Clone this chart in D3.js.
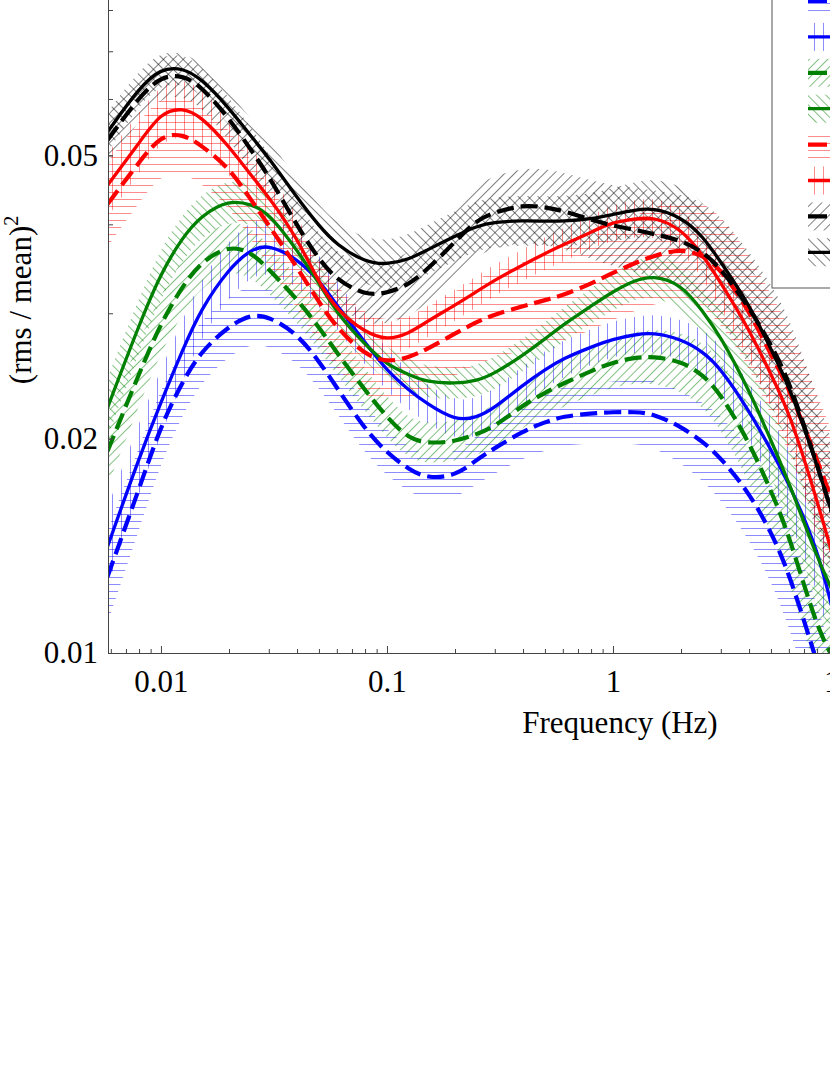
<!DOCTYPE html>
<html>
<head>
<meta charset="utf-8">
<script src="https://cdn.jsdelivr.net/npm/d3@7"></script>
<style>
	body { margin: 0; background: #ffffff; }
	svg { display: block; }
</style>
</head>
<body>
<div id="chart"></div>
<script>
// frequency grid (Hz), shared by every curve
var freq = [0.0058, 0.008, 0.01, 0.0125, 0.015, 0.02, 0.025, 0.03, 0.04, 0.05, 0.06, 0.08,
			0.1, 0.125, 0.15, 0.2, 0.25, 0.3, 0.4, 0.5, 0.6, 0.8,
			1, 1.25, 1.5, 2, 2.5, 3, 4, 5, 6, 8, 9.5];

// power, (rms/mean)^2
var blueDashed  = [0.0128, 0.0170, 0.0209, 0.0241, 0.0265, 0.0288, 0.0299, 0.0297, 0.0281, 0.0257, 0.0236, 0.0206,
				   0.0191, 0.0181, 0.0176, 0.0177, 0.0187, 0.0194, 0.0205, 0.0211, 0.0215, 0.0217,
				   0.0218, 0.0218, 0.0217, 0.0208, 0.0198, 0.0188, 0.0168, 0.0148, 0.0130, 0.0097, 0.0081];
var blueSolid   = [0.0141, 0.0188, 0.0225, 0.0267, 0.0304, 0.0347, 0.0369, 0.0375, 0.0358, 0.0334, 0.0308, 0.0273,
				   0.0249, 0.0234, 0.0224, 0.0212, 0.0214, 0.0221, 0.0238, 0.0250, 0.0259, 0.0269,
				   0.0276, 0.0280, 0.0282, 0.0276, 0.0265, 0.0251, 0.0219, 0.0193, 0.0173, 0.0141, 0.0113];
var greenDashed = [0.0192, 0.0247, 0.0291, 0.0328, 0.0354, 0.0374, 0.0366, 0.0346, 0.0314, 0.0287, 0.0264, 0.0234,
				   0.0214, 0.0200, 0.0197, 0.0198, 0.0203, 0.0208, 0.0223, 0.0232, 0.0239, 0.0249,
				   0.0256, 0.0260, 0.0261, 0.0257, 0.0246, 0.0231, 0.0198, 0.0169, 0.0147, 0.0108, 0.0098];
var greenSolid  = [0.0221, 0.0289, 0.0342, 0.0384, 0.0411, 0.0433, 0.0427, 0.0415, 0.0368, 0.0331, 0.0300, 0.0271,
				   0.0254, 0.0246, 0.0240, 0.0239, 0.0241, 0.0247, 0.0262, 0.0276, 0.0289, 0.0307,
				   0.0322, 0.0334, 0.0339, 0.0330, 0.0302, 0.0278, 0.0234, 0.0199, 0.0174, 0.0136, 0.0121];
var redDashed   = [0.0427, 0.0489, 0.0534, 0.0536, 0.0517, 0.0481, 0.0433, 0.0399, 0.0348, 0.0311, 0.0286, 0.0262,
				   0.0256, 0.0260, 0.0267, 0.0281, 0.0292, 0.0299, 0.0307, 0.0313, 0.0318, 0.0330,
				   0.0342, 0.0353, 0.0361, 0.0370, 0.0362, 0.0346, 0.0303, 0.0262, 0.0236, 0.0187, 0.0161];
var redSolid    = [0.0454, 0.0520, 0.0575, 0.0583, 0.0568, 0.0515, 0.0469, 0.0437, 0.0383, 0.0331, 0.0303, 0.0282,
				   0.0275, 0.0281, 0.0292, 0.0308, 0.0322, 0.0334, 0.0351, 0.0364, 0.0374, 0.0390,
				   0.0403, 0.0407, 0.0410, 0.0395, 0.0362, 0.0331, 0.0285, 0.0246, 0.0219, 0.0164, 0.0135];
var blackDashed = [0.0525, 0.0604, 0.0646, 0.0648, 0.0626, 0.0564, 0.0509, 0.0468, 0.0398, 0.0357, 0.0334, 0.0318,
				   0.0320, 0.0329, 0.0345, 0.0378, 0.0406, 0.0416, 0.0426, 0.0423, 0.0418, 0.0406,
				   0.0398, 0.0393, 0.0388, 0.0380, 0.0366, 0.0347, 0.0306, 0.0271, 0.0242, 0.0184, 0.0154];
var blackSolid  = [0.0539, 0.0622, 0.0663, 0.0663, 0.0642, 0.0583, 0.0532, 0.0496, 0.0436, 0.0398, 0.0374, 0.0354,
				   0.0351, 0.0357, 0.0368, 0.0385, 0.0398, 0.0403, 0.0405, 0.0404, 0.0404, 0.0407,
				   0.0413, 0.0419, 0.0422, 0.0410, 0.0385, 0.0354, 0.0309, 0.0267, 0.0238, 0.0184, 0.0154];

// half width of the uncertainty band, in dex
var blueDashedErr  = [0.065, 0.058, 0.052, 0.047, 0.044, 0.042, 0.041, 0.041, 0.040, 0.038, 0.036, 0.034,
					  0.032, 0.031, 0.031, 0.032, 0.034, 0.036, 0.038, 0.040, 0.041, 0.042,
					  0.043, 0.045, 0.047, 0.051, 0.055, 0.059, 0.065, 0.070, 0.074, 0.080, 0.084];
var blueSolidErr   = [0.055, 0.050, 0.046, 0.043, 0.041, 0.040, 0.039, 0.039, 0.038, 0.036, 0.034, 0.031,
					  0.029, 0.028, 0.027, 0.027, 0.027, 0.027, 0.027, 0.026, 0.026, 0.025,
					  0.025, 0.025, 0.026, 0.028, 0.031, 0.034, 0.040, 0.045, 0.050, 0.057, 0.062];
var greenDashedErr = [0.050, 0.045, 0.041, 0.038, 0.036, 0.035, 0.035, 0.034, 0.033, 0.032, 0.031, 0.030,
					  0.029, 0.028, 0.028, 0.028, 0.029, 0.030, 0.031, 0.032, 0.033, 0.034,
					  0.035, 0.036, 0.038, 0.041, 0.045, 0.049, 0.055, 0.060, 0.064, 0.070, 0.074];
var greenSolidErr  = [0.042, 0.038, 0.035, 0.032, 0.030, 0.029, 0.028, 0.028, 0.027, 0.026, 0.025, 0.024,
					  0.023, 0.022, 0.022, 0.022, 0.022, 0.023, 0.023, 0.024, 0.024, 0.025,
					  0.026, 0.027, 0.029, 0.032, 0.036, 0.040, 0.046, 0.051, 0.055, 0.061, 0.065];
var redDashedErr   = [0.060, 0.057, 0.055, 0.054, 0.054, 0.055, 0.056, 0.057, 0.058, 0.058, 0.058, 0.058,
					  0.058, 0.058, 0.058, 0.059, 0.060, 0.061, 0.062, 0.063, 0.064, 0.065,
					  0.066, 0.067, 0.068, 0.070, 0.073, 0.076, 0.080, 0.085, 0.088, 0.093, 0.096];
var redSolidErr    = [0.045, 0.042, 0.040, 0.040, 0.040, 0.040, 0.038, 0.036, 0.033, 0.030, 0.027, 0.024,
					  0.023, 0.022, 0.022, 0.022, 0.022, 0.022, 0.022, 0.023, 0.023, 0.024,
					  0.025, 0.026, 0.027, 0.030, 0.033, 0.036, 0.041, 0.046, 0.050, 0.056, 0.060];
var blackDashedErr = [0.035, 0.032, 0.030, 0.029, 0.029, 0.030, 0.031, 0.032, 0.034, 0.036, 0.038, 0.041,
					  0.043, 0.045, 0.047, 0.049, 0.050, 0.051, 0.052, 0.053, 0.054, 0.055,
					  0.057, 0.059, 0.061, 0.065, 0.069, 0.073, 0.079, 0.085, 0.090, 0.096, 0.100];
var blackSolidErr  = [0.028, 0.025, 0.023, 0.022, 0.022, 0.023, 0.024, 0.025, 0.027, 0.029, 0.031, 0.033,
					  0.034, 0.035, 0.035, 0.035, 0.035, 0.035, 0.035, 0.035, 0.035, 0.036,
					  0.037, 0.039, 0.041, 0.044, 0.048, 0.052, 0.058, 0.064, 0.068, 0.074, 0.078];

var xTickLabels = [0.01, 0.1, 1, 10];
var yTickLabels = [0.01, 0.02, 0.05];

var series = [
	{id: "bd", values: blueDashed,  err: blueDashedErr,  color: "#0000ff", dashed: true,  hatch: "h"},
	{id: "bs", values: blueSolid,   err: blueSolidErr,   color: "#0000ff", dashed: false, hatch: "v"},
	{id: "gd", values: greenDashed, err: greenDashedErr, color: "#008000", dashed: true,  hatch: "/"},
	{id: "gs", values: greenSolid,  err: greenSolidErr,  color: "#008000", dashed: false, hatch: "\\"},
	{id: "rd", values: redDashed,   err: redDashedErr,   color: "#ff0000", dashed: true,  hatch: "h"},
	{id: "rs", values: redSolid,    err: redSolidErr,    color: "#ff0000", dashed: false, hatch: "v"},
	{id: "kd", values: blackDashed, err: blackDashedErr, color: "#000000", dashed: true,  hatch: "/"},
	{id: "ks", values: blackSolid,  err: blackSolidErr,  color: "#000000", dashed: false, hatch: "\\"}
];

var FONT = "'Liberation Serif', 'Times New Roman', serif";

var svg = d3.select("#chart").append("svg")
			.attr("width", 830)
			.attr("height", 1075);

svg.append("rect")
	.attr("width", 830)
	.attr("height", 1075)
	.attr("fill", "#ffffff");

var x = d3.scaleLog().domain([0.00583, 100]).range([108, 1065]);
var y = d3.scaleLog().domain([0.01, 0.1]).range([653, -59]);

var defs = svg.append("defs");

defs.append("clipPath")
	.attr("id", "plot-clip")
	.append("rect")
	.attr("x", 108)
	.attr("y", -59)
	.attr("width", 957)
	.attr("height", 712);

function makeHatch(id, color, kind){
	var opacity = color == "#000000" ? 0.5 : (color == "#008000" ? 0.5 : 0.45);
	var size = kind == "h" ? 7 : (kind == "v" ? 9 : (color == "#000000" ? 7 : 6.5));
	var pat = defs.append("pattern")
				.attr("id", id)
				.attr("patternUnits", "userSpaceOnUse")
				.attr("width", size)
				.attr("height", size);
	if (kind == "/") pat.attr("patternTransform", "rotate(45)");
	if (kind == "\\") pat.attr("patternTransform", "rotate(-45)");

	var ln = pat.append("line")
				.attr("stroke", color)
				.attr("stroke-opacity", opacity)
				.attr("stroke-width", 1);
	if (kind == "h") {
		ln.attr("x1", 0).attr("x2", size).attr("y1", size / 2).attr("y2", size / 2);
	} else {
		ln.attr("x1", size / 2).attr("x2", size / 2).attr("y1", 0).attr("y2", size);
	}
}

series.forEach(function(s){
	makeHatch("hatch-" + s.id, s.color, s.hatch);
	s.points = freq.map(function(f, i){
		return {f: f, v: s.values[i], lo: s.values[i] * Math.pow(10, -s.err[i]), hi: s.values[i] * Math.pow(10, s.err[i])};
	});
});

var plot = svg.append("g").attr("clip-path", "url(#plot-clip)");

var band = d3.area()
			.x(function(d){ return x(d.f); })
			.y0(function(d){ return y(d.lo); })
			.y1(function(d){ return y(d.hi); })
			.curve(d3.curveBasis);

var line = d3.line()
			.x(function(d){ return x(d.f); })
			.y(function(d){ return y(d.v); })
			.curve(d3.curveBasis);

series.forEach(function(s){
	plot.append("path")
		.attr("d", band(s.points))
		.attr("fill", "url(#hatch-" + s.id + ")")
		.attr("stroke", "none");
});

series.forEach(function(s){
	plot.append("path")
		.attr("d", line(s.points))
		.attr("fill", "none")
		.attr("stroke", s.color)
		.attr("stroke-width", s.dashed ? 4.2 : 3.3)
		.attr("stroke-dasharray", s.dashed ? "17,7" : null);
});

// axes, ticks pointing inwards
function minorTicks(lo, hi){
	var out = [];
	for (var e = -3; e <= 2; e++) {
		for (var m = 2; m <= 9; m++) {
			var v = m * Math.pow(10, e);
			if (v > lo && v < hi) out.push(+v.toPrecision(3));
		}
	}
	return out;
}

function styleAxis(g){
	g.selectAll("path, line").attr("stroke", "#444444").attr("stroke-width", 1);
	g.selectAll("text")
		.attr("fill", "#000000")
		.attr("font-family", FONT)
		.attr("font-size", 31);
}

var xMinor = svg.append("g")
	.attr("transform", "translate(0,653)")
	.call(d3.axisBottom(x).tickValues(minorTicks(0.0058, 100)).tickSize(-4).tickSizeOuter(0).tickFormat(""));
xMinor.select(".domain").remove();
styleAxis(xMinor);

var xAxis = svg.append("g")
	.attr("transform", "translate(0,653)")
	.call(d3.axisBottom(x).tickValues(xTickLabels).tickSize(-7).tickSizeOuter(0).tickPadding(17)
		.tickFormat(function(d){ return String(d); }));
styleAxis(xAxis);

var yMinor = svg.append("g")
	.attr("transform", "translate(108,0)")
	.call(d3.axisLeft(y).tickValues(minorTicks(0.01, 0.1)).tickSize(-5).tickSizeOuter(0).tickFormat(""));
yMinor.select(".domain").remove();
styleAxis(yMinor);

var yAxis = svg.append("g")
	.attr("transform", "translate(108,0)")
	.call(d3.axisLeft(y).tickValues(yTickLabels).tickSize(-5).tickSizeOuter(0).tickPadding(10)
		.tickFormat(function(d){ return String(d); }));
styleAxis(yAxis);

// axis titles
svg.append("text")
	.attr("x", 620)
	.attr("y", 733)
	.attr("text-anchor", "middle")
	.attr("font-family", FONT)
	.attr("font-size", 31)
	.text("Frequency (Hz)");

var yTitle = svg.append("text")
	.attr("transform", "translate(31,300) rotate(-90)")
	.attr("text-anchor", "middle")
	.attr("font-family", FONT)
	.attr("font-size", 31);
yTitle.append("tspan").text("(rms / mean)");
yTitle.append("tspan").attr("font-size", 20).attr("dy", -13).text("2");

// legend (cut by the right edge of the picture)
var legend = svg.append("g");
legend.append("rect")
	.attr("x", 772)
	.attr("y", -20)
	.attr("width", 120)
	.attr("height", 308)
	.attr("fill", "#ffffff")
	.attr("stroke", "#555555")
	.attr("stroke-width", 1);

series.forEach(function(s, i){
	var yc = 1 + 35.9 * i;
	legend.append("rect")
		.attr("x", 808)
		.attr("y", yc - 14)
		.attr("width", 40)
		.attr("height", 28)
		.attr("fill", "url(#hatch-" + s.id + ")");
	legend.append("line")
		.attr("x1", 808)
		.attr("x2", 848)
		.attr("y1", yc)
		.attr("y2", yc)
		.attr("stroke", s.color)
		.attr("stroke-width", s.dashed ? 4.2 : 3.3)
		.attr("stroke-dasharray", s.dashed ? "19,7" : null);
});
</script>
</body>
</html>
